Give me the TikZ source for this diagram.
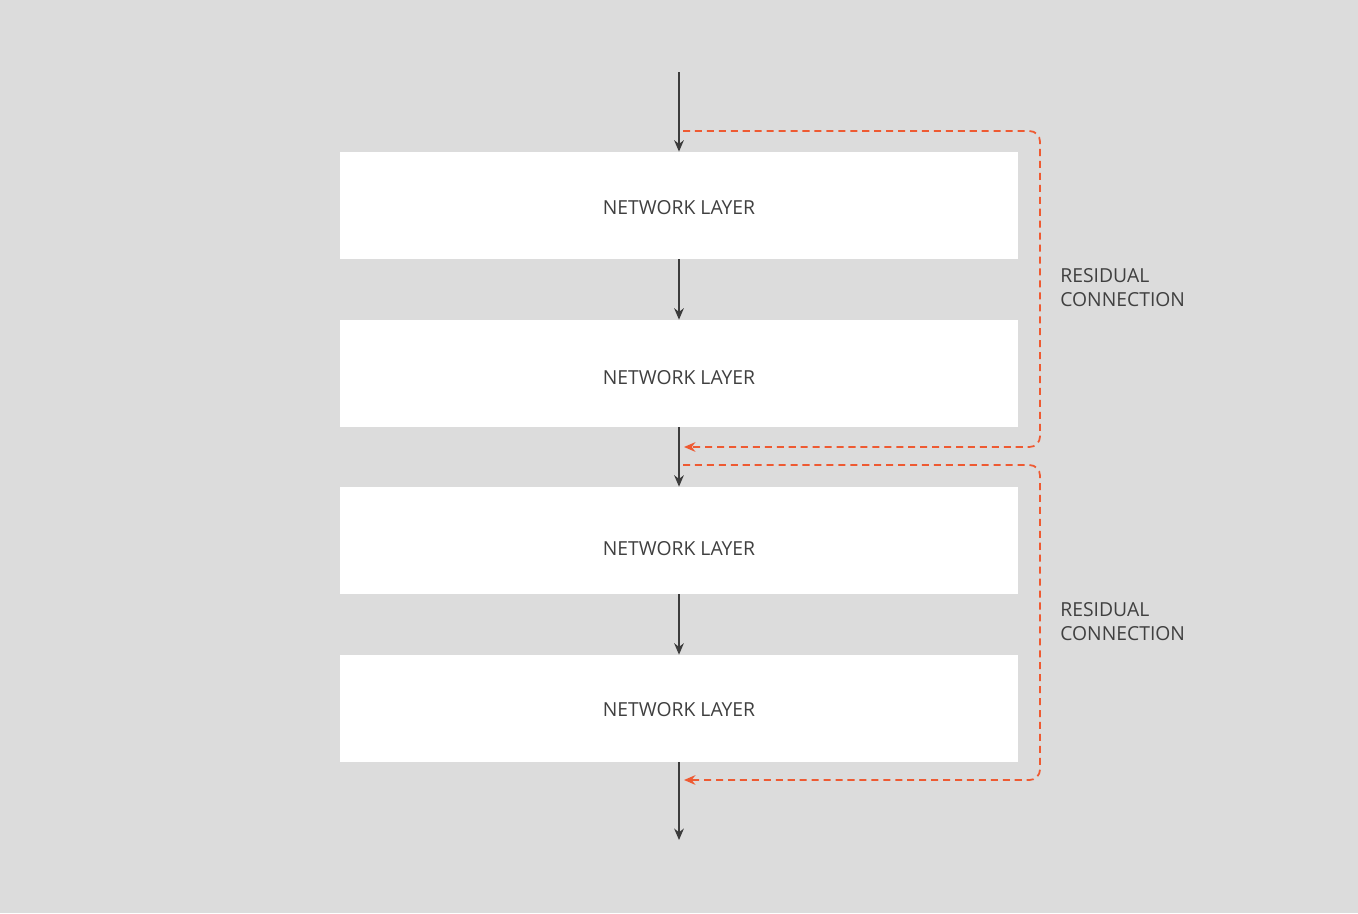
\documentclass[tikz,border=0pt]{standalone}
\usepackage{fontspec}
\setmainfont{Open Sans}
\usetikzlibrary{arrows.meta}

\definecolor{bggray}{HTML}{DCDCDC}
\definecolor{flowgray}{HTML}{3C3C3C}
\definecolor{resred}{HTML}{EE5A32}
\definecolor{textgray}{HTML}{404040}

\tikzset{
    layerbox/.style={fill=white, minimum width=13.56cm, minimum height=2.14cm, inner sep=0pt},
    layertext/.style={text=textgray, inner sep=0pt, font=\fontsize{11}{13}\selectfont},
    flow/.style={draw=flowgray, line width=1pt, -{Stealth[length=6.5pt, width=5.5pt]}},
    residual/.style={draw=resred, line width=1pt, dash pattern=on 4pt off 2.8pt,
        rounded corners=6pt, -{Stealth[length=6.5pt, width=5.5pt]}},
    reslabel/.style={anchor=west, align=left, text=textgray, inner sep=0pt,
        font=\fontsize{11}{13.6}\selectfont}
}

\begin{document}
\begin{tikzpicture}[x=0.02cm, y=-0.02cm]
    \fill[bggray] (0, 0) rectangle (1358, 913);
    \useasboundingbox (0, 0) rectangle (1358, 913);

    % layers
    \node[layerbox] (layer1) at (679, 205.5) {};
    \node[layerbox] (layer2) at (679, 373.5) {};
    \node[layerbox] (layer3) at (679, 540.5) {};
    \node[layerbox] (layer4) at (679, 708.5) {};

    \node[layertext] (name1) at (679, 208) {NETWORK LAYER};
    \node[layertext] (name2) at (679, 378) {NETWORK LAYER};
    \node[layertext] (name3) at (679, 548.5) {NETWORK LAYER};
    \node[layertext] (name4) at (679, 710) {NETWORK LAYER};

    \coordinate (input) at (679, 72);
    \coordinate (output) at (679, 840);

    \draw[flow] (input) -- (layer1.north);
    \draw[flow] (layer1.south) -- (layer2.north);
    \draw[flow] (layer2.south) -- (layer3.north);
    \draw[flow] (layer3.south) -- (layer4.north);
    \draw[flow] (layer4.south) -- (output);

    % residual connections
    \coordinate (res1in) at (683, 131);
    \coordinate (res1out) at (684, 447);
    \coordinate (res2in) at (683, 465);
    \coordinate (res2out) at (684, 780);

    \draw[residual] (res1in) -- (1040, 131) -- (1040, 447) -- (res1out);
    \draw[residual] (res2in) -- (1040, 465) -- (1040, 780) -- (res2out);

    \node[reslabel] (label1) at (1060, 288) {RESIDUAL\\CONNECTION};
    \node[reslabel] (label2) at (1060, 622) {RESIDUAL\\CONNECTION};
\end{tikzpicture}
\end{document}
